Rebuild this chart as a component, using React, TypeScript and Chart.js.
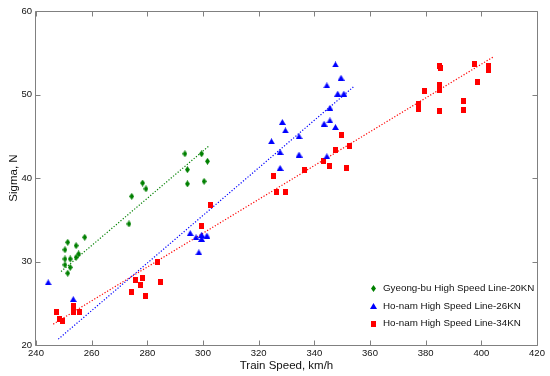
import { useEffect, useRef } from 'react';
import { Chart, registerables } from 'chart.js';

Chart.register(...registerables);

const FONT = '"Liberation Sans", Arial, Helvetica, sans-serif';
const GREEN = '#008000';
const BLUE = '#0000ff';
const RED = '#ff0000';

const xTickValues = [240, 260, 280, 300, 320, 340, 360, 380, 400, 420];
const yTickValues = [20, 30, 40, 50, 60];

const seriesLabels = [
  'Gyeong-bu High Speed Line-20KN',
  'Ho-nam High Speed Line-26KN',
  'Ho-nam High Speed Line-34KN',
];

const greenX = [278.3, 279.5, 274.4, 273.4, 257.5, 251.4, 250.4, 254.4, 255.3, 254.4, 250.4, 252.3, 250.4, 252.3, 251.4, 293.5, 299.5, 301.6, 294.4, 294.4, 300.4];
const greenY = [39.4, 38.7, 37.8, 34.5, 32.9, 32.3, 31.4, 31.9, 30.9, 30.5, 30.3, 30.3, 29.6, 29.3, 28.6, 42.9, 42.9, 42.0, 41.0, 39.3, 39.6];

const blueX = [244.4, 253.4, 295.4, 297.5, 299.5, 299.5, 301.4, 298.5, 324.6, 327.7, 327.7, 334.5, 344.5, 328.5, 329.6, 334.5, 343.5, 345.6, 347.6, 345.6, 348.4, 350.6, 344.5, 349.6, 347.6];
const blueY = [27.5, 25.5, 33.4, 32.9, 33.2, 32.7, 33.1, 31.1, 44.4, 43.1, 41.2, 42.8, 42.6, 46.7, 45.7, 45.0, 46.5, 46.9, 46.1, 48.4, 50.1, 50.1, 51.1, 52.0, 53.6];

const redX = [247.4, 248.6, 249.6, 253.4, 253.4, 255.5, 275.6, 278.3, 277.4, 274.4, 279.5, 284.6, 283.6, 302.6, 299.5, 325.5, 326.5, 329.6, 336.5, 343.4, 349.6, 352.5, 347.6, 345.6, 351.6, 377.6, 377.6, 379.5, 384.8, 385.5, 384.8, 384.8, 384.8, 393.7, 393.7, 397.5, 398.6, 402.7, 402.7];
const redY = [23.9, 23.1, 22.9, 24.7, 23.9, 23.9, 27.8, 28.0, 27.2, 26.3, 25.9, 27.6, 29.9, 36.8, 34.2, 40.2, 38.3, 38.3, 41.0, 42.0, 45.2, 43.8, 43.3, 41.4, 41.2, 48.9, 48.3, 50.4, 53.4, 53.2, 51.1, 50.5, 48.0, 49.2, 48.2, 53.7, 51.5, 53.4, 52.9];

// fitted trend lines (end points)
const greenFitX = [249.0, 302.0];
const greenFitY = [28.8, 43.8];
const blueFitX = [248.0, 354.0];
const blueFitY = [20.7, 50.9];
const redFitX = [246.2, 404.3];
const redFitY = [22.5, 54.5];

function makeMarker(kind: string, color: string): HTMLCanvasElement {
  const c = document.createElement('canvas');
  let w = 5, h = 5;
  if (kind === 'diamond') { w = 5; h = 7; }
  if (kind === 'triangle') { w = 7; h = 6; }
  if (kind === 'square') { w = 5; h = 6; }
  c.width = w; c.height = h;
  const g = c.getContext('2d')!;
  g.fillStyle = color;
  g.beginPath();
  if (kind === 'diamond') {
    g.moveTo(w / 2, 0); g.lineTo(w, h / 2); g.lineTo(w / 2, h); g.lineTo(0, h / 2);
  } else if (kind === 'triangle') {
    g.moveTo(w / 2, 0); g.lineTo(w, h); g.lineTo(0, h);
  } else {
    g.rect(0, 0, w, h);
  }
  g.closePath();
  g.fill();
  return c;
}

const toPts = (xs: number[], ys: number[]) => xs.map((x, i) => ({ x, y: ys[i] }));

export default function App() {
  const ref = useRef<HTMLCanvasElement>(null);

  useEffect(() => {
    const canvas = ref.current!;
    const markers = [
      makeMarker('diamond', GREEN),
      makeMarker('triangle', BLUE),
      makeMarker('square', RED),
    ];

    const framePlugin = {
      id: 'frame',
      afterDraw(chart: any) {
        const { ctx, chartArea } = chart;
        const { left, right, top, bottom } = chartArea;
        const xs = chart.scales.x;
        const ys = chart.scales.y;
        ctx.save();
        ctx.strokeStyle = '#808080';
        ctx.lineWidth = 1;
        const L = Math.round(left) - 0.5;
        const R = Math.round(right) + 0.5;
        const T = Math.round(top) + 0.5;
        const B = Math.round(bottom) + 0.5;
        ctx.beginPath();
        ctx.moveTo(L, T); ctx.lineTo(R, T); ctx.lineTo(R, B); ctx.lineTo(L, B); ctx.closePath();
        const tl = 5;
        xTickValues.forEach((v) => {
          const p = Math.round(xs.getPixelForValue(v)) + 0.5;
          ctx.moveTo(p, B); ctx.lineTo(p, B - tl);
          ctx.moveTo(p, T); ctx.lineTo(p, T + tl);
        });
        yTickValues.forEach((v) => {
          const p = Math.round(ys.getPixelForValue(v)) + 0.5;
          ctx.moveTo(L, p); ctx.lineTo(L + tl, p);
          ctx.moveTo(R, p); ctx.lineTo(R - tl, p);
        });
        ctx.stroke();

        // legend
        const lx = right - 164;
        const ly = bottom - 57;
        ctx.font = `9.8px ${FONT}`;
        ctx.fillStyle = '#111';
        ctx.textBaseline = 'middle';
        ctx.textAlign = 'left';
        seriesLabels.forEach((lab, i) => {
          const y = ly + i * 17.8;
          const m = markers[i];
          ctx.drawImage(m, Math.round(lx - m.width / 2), Math.round(y - m.height / 2));
          ctx.fillText(lab, lx + 10, y);
        });
        ctx.restore();
      },
    };

    const fitStyle = (color: string) => ({
      type: 'line' as const,
      showLine: true,
      borderColor: color,
      borderWidth: 1.2,
      borderDash: [1.2, 1.8],
      pointRadius: 0,
      fill: false,
    });

    const chart = new Chart(canvas, {
      type: 'scatter',
      data: {
        datasets: [
          { label: seriesLabels[0], data: toPts(greenX, greenY), pointStyle: markers[0] as any, backgroundColor: GREEN, borderColor: GREEN },
          { label: seriesLabels[1], data: toPts(blueX, blueY), pointStyle: markers[1] as any, backgroundColor: BLUE, borderColor: BLUE },
          { label: seriesLabels[2], data: toPts(redX, redY), pointStyle: markers[2] as any, backgroundColor: RED, borderColor: RED },
          { label: 'fit20', data: toPts(greenFitX, greenFitY), ...fitStyle(GREEN) } as any,
          { label: 'fit26', data: toPts(blueFitX, blueFitY), ...fitStyle(BLUE) } as any,
          { label: 'fit34', data: toPts(redFitX, redFitY), ...fitStyle(RED) } as any,
        ],
      },
      options: {
        responsive: false,
        animation: false,
        layout: { padding: { top: 11, right: 13, left: 0, bottom: 0 } },
        plugins: {
          legend: { display: false },
          tooltip: { enabled: false },
        },
        scales: {
          x: {
            type: 'linear',
            min: 240,
            max: 420,
            grid: { display: false, drawTicks: false },
            border: { display: false },
            afterBuildTicks: (s: any) => { s.ticks = xTickValues.map((v) => ({ value: v })); },
            afterFit: (s: any) => { s.height = 31; },
            ticks: {
              autoSkip: false,
              maxRotation: 0,
              padding: 3,
              color: '#111',
              font: { family: FONT, size: 9.5 },
            },
            title: {
              display: true,
              text: 'Train Speed, km/h',
              color: '#111',
              font: { family: FONT, size: 11.5 },
              padding: { top: 0, bottom: 3 },
            },
          },
          y: {
            type: 'linear',
            min: 20,
            max: 60,
            grid: { display: false, drawTicks: false },
            border: { display: false },
            afterBuildTicks: (s: any) => { s.ticks = yTickValues.map((v) => ({ value: v })); },
            afterFit: (s: any) => { s.width = 36; },
            ticks: {
              padding: 4,
              color: '#111',
              font: { family: FONT, size: 9.5 },
            },
            title: {
              display: true,
              text: 'Sigma, N',
              color: '#111',
              font: { family: FONT, size: 11.5 },
              padding: { top: 7, bottom: 0 },
            },
          },
        },
      },
      plugins: [framePlugin],
    });

    return () => chart.destroy();
  }, []);

  return (
    <div style={{ position: 'absolute', left: 0, top: 0, width: 550, height: 376, background: '#fff' }}>
      <canvas ref={ref} width={550} height={376} style={{ display: 'block' }} />
    </div>
  );
}
